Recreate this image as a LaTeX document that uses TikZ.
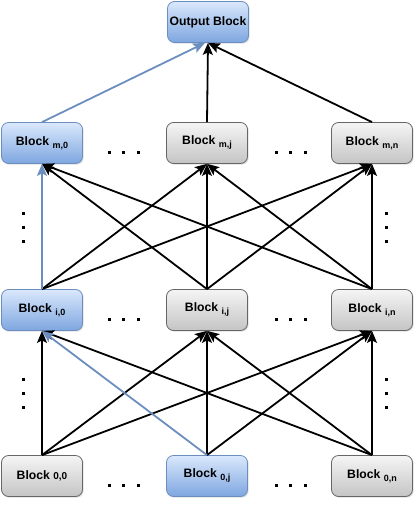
\documentclass[tikz,border=0pt]{standalone}
\usepackage{fontspec}
\setmainfont{Liberation Sans}
\usetikzlibrary{arrows.meta,shadows}
\definecolor{bluefillTop}{HTML}{DAE8FC}
\definecolor{bluefillBot}{HTML}{7EA6E0}
\definecolor{blueline}{HTML}{6C8EBF}
\definecolor{grayTop}{HTML}{F5F5F5}
\definecolor{grayBot}{HTML}{C4C4C4}
\definecolor{grayline}{HTML}{666666}
\tikzset{
  blk/.style={rounded corners=7pt, minimum width=81pt, minimum height=41pt, inner sep=0pt,
     font=\fontsize{12.2}{14}\selectfont\bfseries,
     drop shadow={opacity=0.25, shadow xshift=1.2pt, shadow yshift=-1.2pt}},
  grayblk/.style={blk, draw=grayline, top color=grayTop, bottom color=grayBot, line width=0.8pt},
  blueblk/.style={blk, draw=blueline, top color=bluefillTop, bottom color=bluefillBot, line width=0.8pt},
  conn/.style={line width=1.8pt, -{Stealth[length=12pt,width=10pt,inset=2.5pt]}},
  bconn/.style={conn, draw=blueline, -{Stealth[length=12pt,width=10pt,inset=2.5pt,fill=blueline]}},
  dotsq/.style={fill=black}
}
\newcommand{\blksub}[1]{\ \raisebox{-3pt}{\fontsize{9}{9}\selectfont #1}}
\begin{document}
\begin{tikzpicture}[x=1pt,y=-1pt]
\useasboundingbox (0,0) rectangle (415,519);
% nodes
\node[blueblk] (out) at (208,22) {Output Block};
\node[blueblk] (m0) at (42,143) {Block\blksub{m,0}};
\node[grayblk] (mj) at (207,143) {Block\blksub{m,j}};
\node[grayblk] (mn) at (372,143) {Block\blksub{m,n}};
\node[blueblk] (i0) at (42,310) {Block\blksub{i,0}};
\node[grayblk] (ij) at (207,310) {Block\blksub{i,j}};
\node[grayblk] (in) at (372,310) {Block\blksub{i,n}};
\node[grayblk] (z0) at (42,476) {Block {\fontsize{10}{10}\selectfont 0,0}};
\node[blueblk] (zj) at (207,476) {Block\blksub{0,j}};
\node[grayblk] (zn) at (372,476) {Block\blksub{0,n}};
% connectors bottom layer
\draw[conn] (zn.north) -- (i0.south);
\draw[conn] (z0.north) -- (i0.south);
\foreach \s in {z0,zj,zn}{
  \draw[conn] (\s.north) -- (ij.south);
  \draw[conn] (\s.north) -- (in.south);
}
% middle layer
\foreach \s in {ij,in}{\draw[conn] (\s.north) -- (m0.south);}
\foreach \s in {i0,ij,in}{
  \draw[conn] (\s.north) -- (mj.south);
  \draw[conn] (\s.north) -- (mn.south);
}
% top layer
\draw[conn] (mj.north) -- (out.south);
\draw[conn] (mn.north) -- (out.south);
% blue paths
\draw[bconn] (zj.north) -- (i0.south);
\draw[bconn] (i0.north) -- (m0.south);
\draw[bconn] (m0.north) -- ([xshift=-3pt]out.south);
% horizontal dots
\foreach \y in {152,319,485}{
  \foreach \x in {109,123,138,276,290,305}{
    \fill[dotsq] (\x-1.5,\y-1.5) rectangle (\x+1.5,\y+1.5);
  }
}
% vertical dots
\foreach \x in {23,386}{
  \foreach \y in {213,227,241,379,393,407}{
    \fill[dotsq] (\x-1.5,\y-1.5) rectangle (\x+1.5,\y+1.5);
  }
}
\end{tikzpicture}
\end{document}
